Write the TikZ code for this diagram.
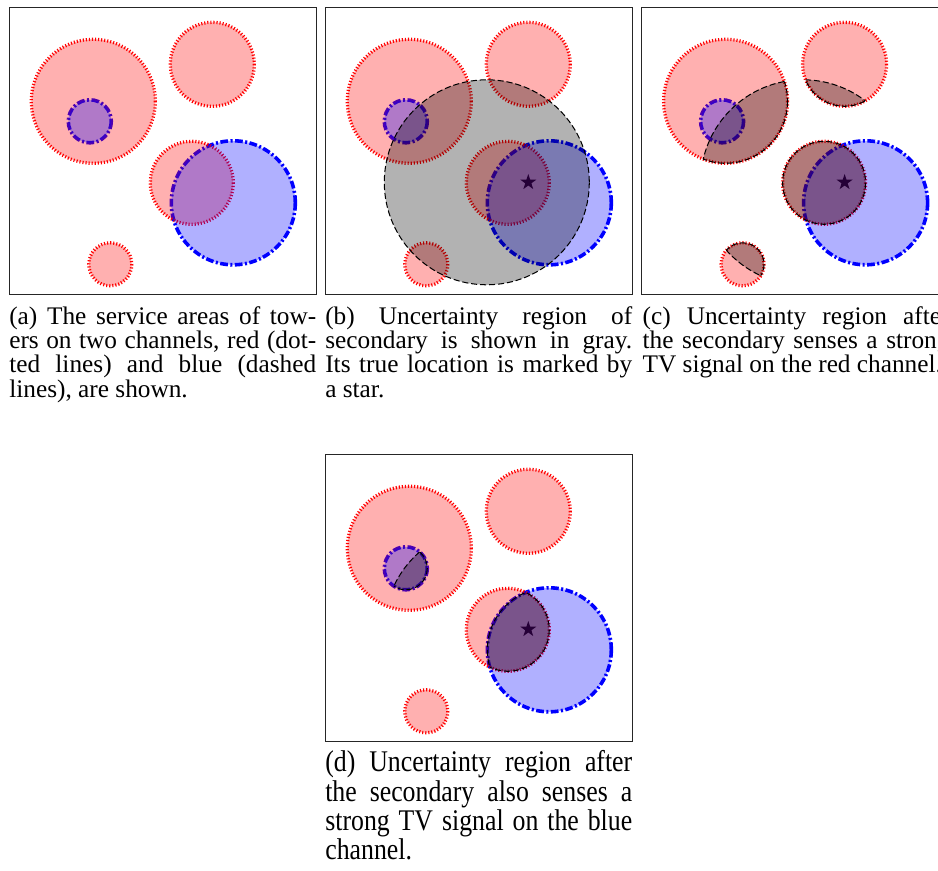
\documentclass[tikz,border=0pt]{standalone}
\usepackage{fontspec}
\setmainfont{Liberation Serif}
\newfontfamily\capfontA{Liberation Serif}
\newfontfamily\capfontD[FakeStretch=0.86]{Liberation Serif}
\newcommand\capA{\capfontA\fontsize{12.4pt}{11.9pt}\selectfont}
\newcommand\capD{\capfontD\fontsize{14.7pt}{14.4pt}\selectfont}
\newcommand\fl[1]{\makebox[\linewidth][s]{#1}}
\usetikzlibrary{shapes.geometric}
\tikzset{
  redarea/.style={fill=red, fill opacity=0.31},
  rededge/.style={draw=red, line width=1.6pt, dash pattern=on 0.55pt off 0.95pt},
  bluearea/.style={fill=blue, fill opacity=0.31},
  blueedge/.style={draw=blue, line width=1.75pt, dash pattern=on 3.8pt off 1.2pt on 1pt off 1.2pt},
  grayarea/.style={fill=black, fill opacity=0.3},
  grayedge/.style={draw=black, line width=0.5pt, dash pattern=on 3pt off 1.4pt},
  frame/.style={draw=black!85, line width=0.6pt},
  starmark/.style={star, star points=5, star point ratio=2.6, fill=black, draw=none, inner sep=0pt, minimum size=8.2pt},
  caption/.style={anchor=base west, inner sep=0pt, outer sep=0pt},
}
\def\BigRed{(84,94) circle[radius=62]}
\def\TopRed{(203,57) circle[radius=42]}
\def\MidRed{(182.5,175.5) circle[radius=41.5]}
\def\SmallRed{(101,257) circle[radius=21.5]}
\def\SmallBlue{(80.5,114) circle[radius=21.5]}
\def\BigBlue{(224,195.5) circle[radius=62]}
\def\GrayDisk{(161.5,175) circle[radius=102.5]}
\newcommand\panelbody[1]{%
  \draw[frame] (0,0) rectangle (307,287);
  \ifnum#1>0 \node[starmark] (star#1) at (203,175) {};\fi
  \path[blueedge] \SmallBlue; \path[blueedge] \BigBlue;
  \path[redarea] \BigRed;   \path[rededge] \BigRed;
  \path[redarea] \TopRed;   \path[rededge] \TopRed;
  \path[redarea] \MidRed;   \path[rededge] \MidRed;
  \path[redarea] \SmallRed; \path[rededge] \SmallRed;
  \path[bluearea] \SmallBlue; \path[bluearea] \BigBlue;
  \ifcase#1
  \or
    \path[grayarea] \GrayDisk; \path[grayedge] \GrayDisk;
  \or
    \begin{scope}\clip \BigRed; \path[grayarea] \GrayDisk; \path[grayedge] \GrayDisk;\end{scope}
    \begin{scope}\clip \TopRed; \path[grayarea] \GrayDisk; \path[grayedge] \GrayDisk;\end{scope}
    \begin{scope}\clip \MidRed; \path[grayarea] \GrayDisk; \path[grayedge] \GrayDisk;\end{scope}
    \begin{scope}\clip \SmallRed; \path[grayarea] \GrayDisk; \path[grayedge] \GrayDisk;\end{scope}
    \begin{scope}\clip \GrayDisk; \path[grayedge] \BigRed; \path[grayedge] \TopRed;
      \path[grayedge] \MidRed; \path[grayedge] \SmallRed;\end{scope}
  \or
    \begin{scope}\clip \SmallBlue; \path[grayarea] \GrayDisk; \path[grayedge] \GrayDisk;\end{scope}
    \begin{scope}\clip \GrayDisk; \path[grayedge] \SmallBlue;\end{scope}
    \begin{scope}\clip \MidRed; \path[grayarea] \BigBlue; \path[grayedge] \BigBlue;\end{scope}
    \begin{scope}\clip \BigBlue; \path[grayedge] \MidRed;\end{scope}
  \fi
}
\begin{document}
\begin{tikzpicture}[x=0.49pt,y=-0.49pt]
\path[use as bounding box] (0,0) rectangle (938,871);
\fill[white] (0,0) rectangle (938,871);
\clip (0,0) rectangle (938,871);
\begin{scope}[shift={(9.3,7.3)}]\panelbody{0}\end{scope}
\begin{scope}[shift={(325.3,7.3)}]\panelbody{1}\end{scope}
\begin{scope}[shift={(641.6,7.3)}]\panelbody{2}\end{scope}
\begin{scope}[shift={(325.3,454.3)}]\panelbody{3}\end{scope}
\node[caption] (capa) at (9.3,324.3) {\parbox[t]{150.4pt}{\capA
  \fl{(a) The service areas of tow-}\\
  \fl{ers on two channels, red (dot-}\\
  \fl{ted lines) and blue (dashed}\\
  lines), are shown.}};
\node[caption] (capb) at (325.3,324.3) {\parbox[t]{150.4pt}{\capA
  \fl{(b) Uncertainty region of}\\
  \fl{secondary is shown in gray.}\\
  \fl{Its true location is marked by}\\
  a star.}};
\node[caption] (capc) at (642.6,324.3) {\parbox[t]{150.4pt}{\capA
  \fl{(c) Uncertainty region after}\\
  \fl{the secondary senses a strong}\\
  TV signal on the red channel.}};
\node[caption] (capd) at (325.3,771.7) {\parbox[t]{150.4pt}{\capD
  \fl{(d) Uncertainty region after}\\
  \fl{the secondary also senses a}\\
  \fl{strong TV signal on the blue}\\
  channel.}};
\end{tikzpicture}
\end{document}
